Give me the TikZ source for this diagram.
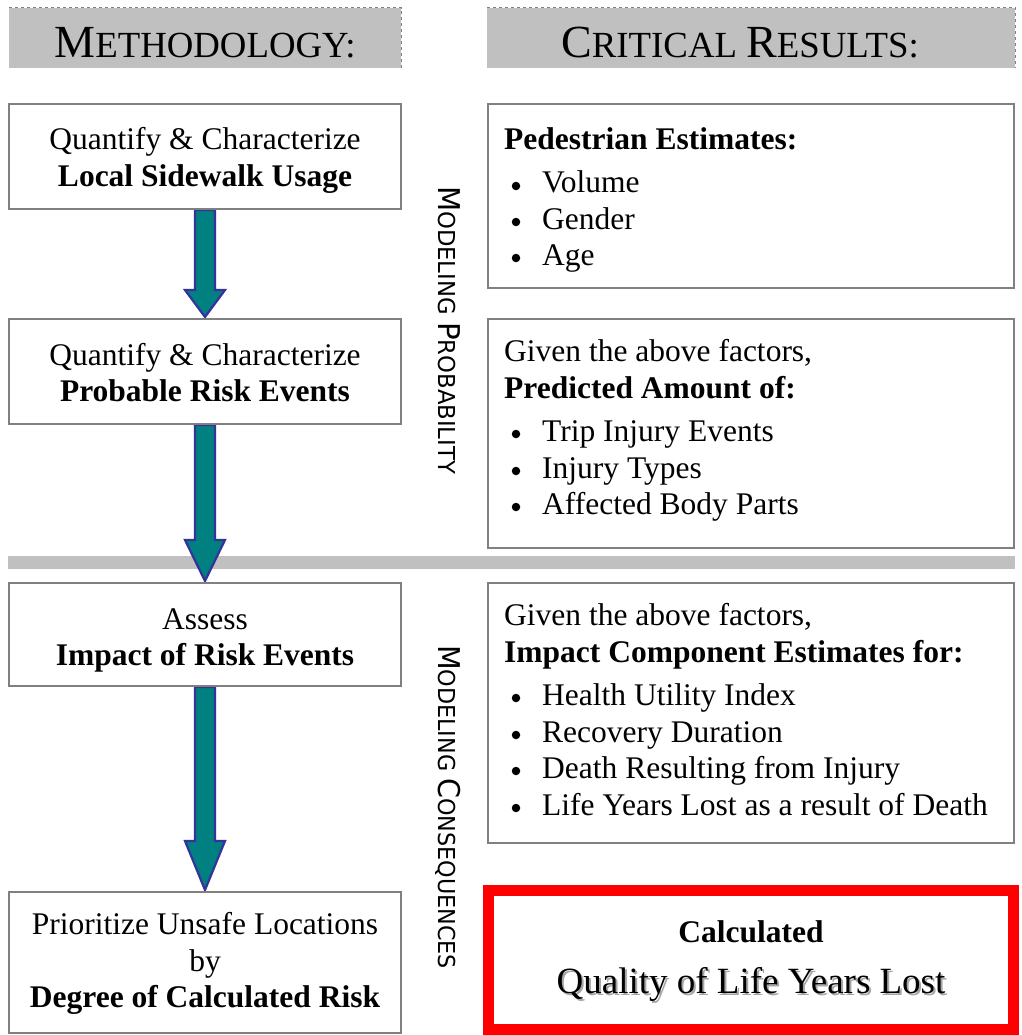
\documentclass[tikz,border=0pt]{standalone}
\usepackage{fontspec}
\usepackage{graphicx}
\setmainfont{Liberation Serif}
\newfontfamily\vsans{DejaVu Sans}
\usetikzlibrary{calc}
\definecolor{hdrgray}{HTML}{C0C0C0}
\definecolor{boxgray}{HTML}{808080}
\definecolor{tealfill}{HTML}{008080}
\definecolor{arrblue}{HTML}{333399}
\definecolor{redbox}{HTML}{FF0000}
\pgfdeclarelayer{bottom}
\pgfdeclarelayer{back}
\pgfdeclarelayer{mid}
\pgfsetlayers{bottom,back,mid,main}
\newcommand\bodyfont{\fontsize{31.5}{36.5}\selectfont}
\newcommand\hdr[2]{{\fontsize{46}{50}\selectfont #1}{\fontsize{36.8}{40}\selectfont #2}}
\newcommand\vsc[2]{{\fontsize{30}{32}\selectfont #1}{\fontsize{23.3}{26}\selectfont #2}}
\newcommand\fatarrow[3]{%
  \draw[fatarr] let \p1=(#1.south), \p2=(#2.north) in
   (\x1-10pt,\y1) -- (\x1-10pt,\y2+#3) -- (\x1-20pt,\y2+#3) -- (\x1,\y2+1pt)
   -- (\x1+20pt,\y2+#3) -- (\x1+10pt,\y2+#3) -- (\x1+10pt,\y1) -- cycle;}
\begin{document}
\begin{tikzpicture}[x=1pt,y=-1pt,
  hbar/.style={fill=hdrgray, inner sep=0, minimum height=60pt},
  lbox/.style={draw=boxgray, line width=2pt, fill=white, inner sep=0, minimum width=392pt},
  rbox/.style={draw=boxgray, line width=2pt, fill=white, inner sep=0, minimum width=526pt},
  txt/.style={inner sep=0, font=\bodyfont, anchor=base},
  ltxt/.style={txt, anchor=base west},
  bul/.style={circle, fill=black, inner sep=0, minimum size=8.5pt},
  vlab/.style={inner sep=0, rotate=-90, anchor=base, font=\vsans},
  fatarr/.style={fill=tealfill, draw=arrblue, line width=2.2pt, line join=miter}]
\useasboundingbox (0,0) rectangle (1021,1035);
\begin{pgfonlayer}{bottom}
\fill[white] (0,0) rectangle (1021,1035);
\end{pgfonlayer}

% header bars
\node[hbar, minimum width=392pt] (hm) at (205,38) {};
\node[hbar, minimum width=528pt] (hc) at (751,38) {};
\draw[boxgray, dashed, line width=0.8pt] (hm.south east) -- (hm.north east) -- (hm.north west);
\draw[boxgray, dashed, line width=0.8pt] (hc.north west) -- (hc.north east) -- (hc.south east);
\node[txt, font={}] (hmt) at (205,58) {\hdr{M}{ETHODOLOGY:}};
\node[txt, font={}] (hct) at (740,58) {\hdr{C}{RITICAL }\hdr{R}{ESULTS:}};

% separator
\begin{pgfonlayer}{back}
\node[fill=hdrgray, inner sep=0, minimum width=1007pt, minimum height=13pt] (sep) at (511,562) {};
\end{pgfonlayer}

% left boxes
\node[lbox, minimum height=105pt] (b1) at (205,156.5) {};
\node[lbox, minimum height=105pt] (b2) at (205,371.5) {};
\node[lbox, minimum height=103pt] (b3) at (205,634.5) {};
\node[lbox, minimum height=141pt] (b4) at (205,962.5) {};

\node[txt] (b1a) at (205,150) {Quantify \& Characterize};
\node[txt] (b1b) at (205,186) {\textbf{Local Sidewalk Usage}};
\node[txt] (b2a) at (205,365) {Quantify \& Characterize};
\node[txt] (b2b) at (205,401) {\textbf{Probable Risk Events}};
\node[txt] (b3a) at (205,629) {Assess};
\node[txt] (b3b) at (205,665) {\textbf{Impact of Risk Events}};
\node[txt] (b4a) at (205,934) {Prioritize Unsafe Locations};
\node[txt] (b4b) at (205,971) {by};
\node[txt] (b4c) at (205,1007) {\textbf{Degree of Calculated Risk}};

% arrows
\begin{pgfonlayer}{mid}
\fatarrow{b1}{b2}{28pt}
\fatarrow{b2}{b3}{42pt}
\fatarrow{b3}{b4}{50pt}
\end{pgfonlayer}

% right boxes
\node[rbox, minimum height=184pt] (ra) at (751,196) {};
\node[rbox, minimum height=229pt] (rb) at (751,433.5) {};
\node[rbox, minimum height=260pt] (rc) at (751,713) {};

\node[ltxt] (ra0) at (504,150) {\textbf{Pedestrian Estimates:}};
\node[bul] (ra1b) at (516,186) {};
\node[ltxt] (ra1) at (542,193) {Volume};
\node[bul] (ra2b) at (516,222) {};
\node[ltxt] (ra2) at (542,229) {Gender};
\node[bul] (ra3b) at (516,258) {};
\node[ltxt] (ra3) at (542,265) {Age};

\node[ltxt] (rb0) at (504,361) {Given the above factors,};
\node[ltxt] (rb1) at (504,398) {\textbf{Predicted Amount of:}};
\node[bul] (rb2b) at (516,434) {};
\node[ltxt] (rb2) at (542,441) {Trip Injury Events};
\node[bul] (rb3b) at (516,471) {};
\node[ltxt] (rb3) at (542,478) {Injury Types};
\node[bul] (rb4b) at (516,507) {};
\node[ltxt] (rb4) at (542,514) {Affected Body Parts};

\node[ltxt] (rc0) at (504,625) {Given the above factors,};
\node[ltxt] (rc1) at (504,662) {\textbf{Impact Component Estimates for:}};
\node[bul] (rc2b) at (516,698) {};
\node[ltxt] (rc2) at (542,705) {Health Utility Index};
\node[bul] (rc3b) at (516,735) {};
\node[ltxt] (rc3) at (542,742) {Recovery Duration};
\node[bul] (rc4b) at (516,771) {};
\node[ltxt] (rc4) at (542,778) {Death Resulting from Injury};
\node[bul] (rc5b) at (516,808) {};
\node[ltxt] (rc5) at (542,815) {Life Years Lost as a result of Death};

% red result box
\node[draw=redbox, line width=11pt, fill=white, inner sep=0,
      minimum width=525pt, minimum height=138.5pt] (res) at (751,959.75) {};
\node[txt] (res1) at (751,942) {\textbf{Calculated}};
\node[txt, font=\fontsize{37}{40}\selectfont, text=black!35] (res2s) at (753,995) {Quality of Life Years Lost};
\node[txt, font=\fontsize{37}{40}\selectfont] (res2) at (751,993) {Quality of Life Years Lost};

% vertical labels
\node[vlab] (vp) at (438,330) {\scalebox{0.975}[1]{\vsc{M}{ODELING }\vsc{P}{ROBABILITY}}};
\node[vlab] (vc) at (438,807) {\scalebox{0.955}[1]{\vsc{M}{ODELING }\vsc{C}{ONSEQUENCES}}};
\end{tikzpicture}
\end{document}
